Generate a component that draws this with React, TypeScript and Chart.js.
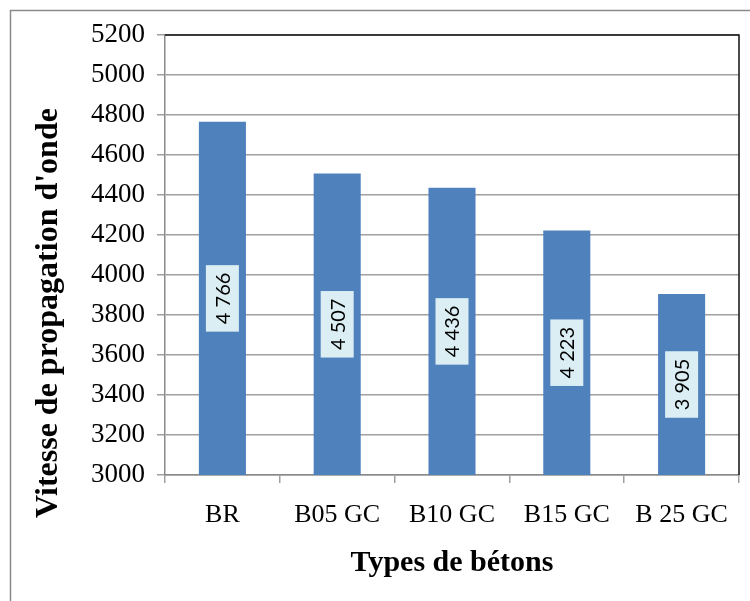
import React, { useEffect, useRef } from 'react';
import { Chart, registerables } from 'chart.js';

Chart.register(...registerables);

const categories: string[] = ['BR', 'B05 GC', 'B10 GC', 'B15 GC', 'B 25 GC'];
const values: number[] = [4766, 4507, 4436, 4223, 3905];
const yMin = 3000;
const yMax = 5200;
const yStep = 200;
const xTitle = 'Types de bétons';
const yTitle = "Vitesse de propagation d'onde";

const BAR_COLOR = '#4F81BD';
const LABEL_BG = '#DAEEF3';
const GRID = '#a0a0a0';
const SERIF = '"Liberation Serif", "Times New Roman", serif';

function fmt(v: number): string {
  const th = Math.floor(v / 1000);
  const rest = String(v % 1000).padStart(3, '0');
  return `${th} ${rest}`;
}

const framePlugin = {
  id: 'framePlugin',
  beforeDraw(chart: any) {
    const ctx = chart.ctx;
    ctx.save();
    ctx.fillStyle = '#ffffff';
    ctx.fillRect(0, 0, chart.width, chart.height);
    ctx.strokeStyle = '#8a8a8a';
    ctx.lineWidth = 1.5;
    ctx.beginPath();
    ctx.moveTo(10.5, chart.height + 5);
    ctx.lineTo(10.5, 10.5);
    ctx.lineTo(chart.width + 5, 10.5);
    ctx.stroke();
    ctx.restore();
  },
  afterDraw(chart: any) {
    const ctx = chart.ctx;
    const a = chart.chartArea;
    ctx.save();
    ctx.strokeStyle = '#111';
    ctx.lineWidth = 1.5;
    ctx.beginPath();
    ctx.moveTo(a.left, a.top);
    ctx.lineTo(a.right, a.top);
    ctx.lineTo(a.right, a.bottom);
    ctx.stroke();
    // y axis title
    ctx.translate(49, 313);
    ctx.rotate(-Math.PI / 2);
    ctx.font = `bold 32px ${SERIF}`;
    ctx.fillStyle = '#000';
    ctx.textAlign = 'center';
    ctx.textBaseline = 'middle';
    ctx.fillText(yTitle, 0, 0);
    ctx.restore();
  },
};

const labelPlugin = {
  id: 'labelPlugin',
  afterDatasetsDraw(chart: any) {
    const ctx = chart.ctx;
    const meta = chart.getDatasetMeta(0);
    const ds = chart.data.datasets[0];
    const bottom = chart.scales.y.getPixelForValue(yMin);
    ctx.save();
    ctx.font = `20px Lato, "Open Sans", sans-serif`;
    meta.data.forEach((el: any, i: number) => {
      const text = fmt(ds.data[i] as number);
      const cy = (el.y + bottom) / 2;
      const tw = ctx.measureText(text).width;
      const boxL = tw + 15;
      const boxW = 33;
      ctx.save();
      ctx.translate(el.x, cy);
      ctx.rotate(-Math.PI / 2);
      ctx.fillStyle = LABEL_BG;
      ctx.fillRect(-boxL / 2, -boxW / 2, boxL, boxW);
      ctx.fillStyle = '#000';
      ctx.textAlign = 'center';
      ctx.textBaseline = 'middle';
      ctx.fillText(text, 0, 1);
      ctx.restore();
    });
    ctx.restore();
  },
};

export default function App() {
  const ref = useRef<HTMLCanvasElement | null>(null);

  useEffect(() => {
    if (!ref.current) return;
    const chart = new Chart(ref.current, {
      type: 'bar',
      data: {
        labels: categories,
        datasets: [
          {
            data: values,
            backgroundColor: BAR_COLOR,
            borderWidth: 0,
            barPercentage: 0.41,
            categoryPercentage: 1,
          },
        ],
      },
      options: {
        animation: false,
        responsive: false,
        layout: { padding: { left: 0, top: 35, right: 11, bottom: 0 } },
        plugins: {
          legend: { display: false },
          tooltip: { enabled: false },
        },
        scales: {
          x: {
            afterFit: (s: any) => {
              s.height = 126;
            },
            grid: {
              offset: true,
              drawOnChartArea: false,
              drawTicks: true,
              tickLength: 8,
              color: GRID,
              lineWidth: 1.5,
            },
            border: { color: '#8a8a8a', width: 1.5 },
            ticks: {
              font: { family: SERIF, size: 26 },
              color: '#000',
              padding: 17,
              maxRotation: 0,
              autoSkip: false,
            },
            title: {
              display: true,
              text: xTitle,
              font: { family: SERIF, size: 30, weight: 'bold' },
              color: '#000',
              padding: { top: 0, bottom: 20 },
            },
          },
          y: {
            min: yMin,
            max: yMax,
            afterFit: (s: any) => {
              s.width = 165;
            },
            grid: {
              color: GRID,
              lineWidth: 1.5,
              tickLength: 8,
            },
            border: { color: '#8a8a8a', width: 1.5 },
            ticks: {
              stepSize: yStep,
              font: { family: SERIF, size: 27 },
              color: '#000',
              padding: 12,
              callback: (v: any) => String(v),
            },
          },
        },
      },
      plugins: [framePlugin, labelPlugin],
    });
    return () => chart.destroy();
  }, []);

  return (
    <div style={{ position: 'absolute', left: 0, top: 0, width: 750, height: 601 }}>
      <canvas ref={ref} width={750} height={601} />
    </div>
  );
}
